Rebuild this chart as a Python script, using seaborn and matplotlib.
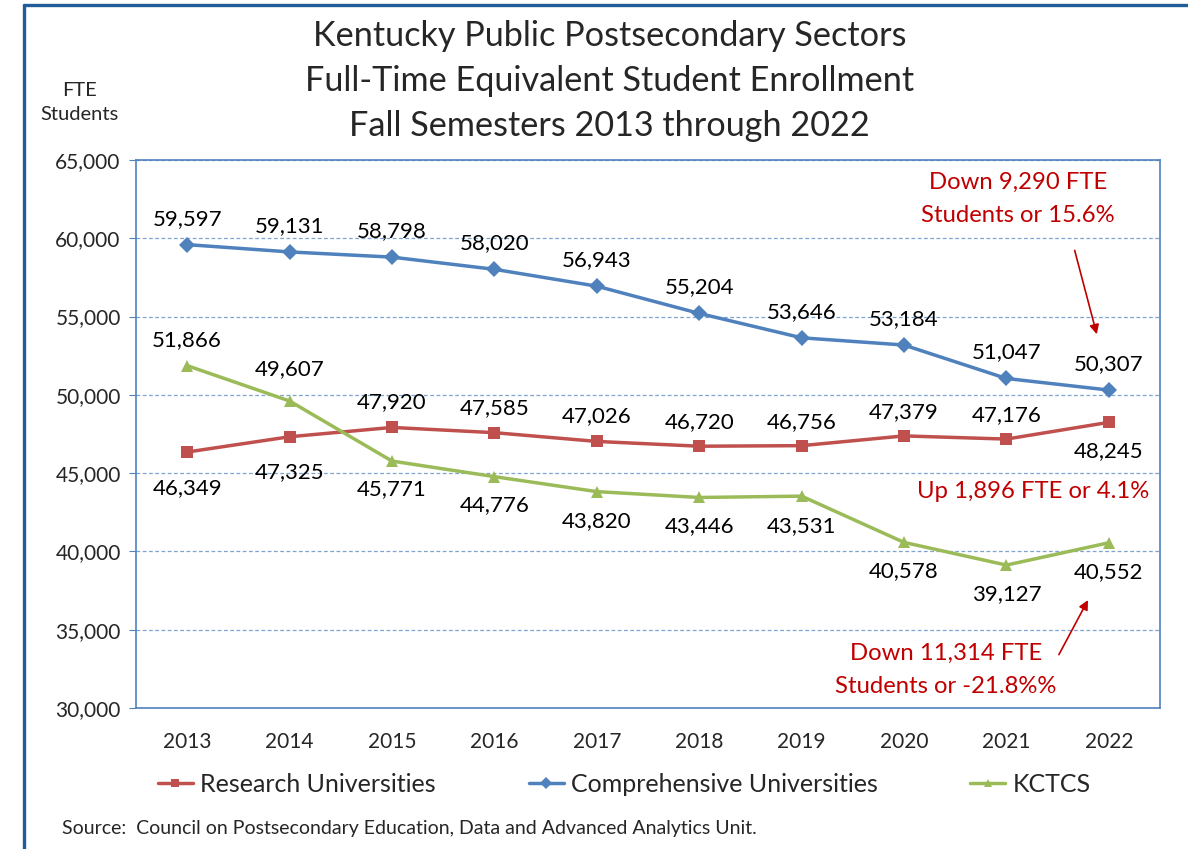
import seaborn as sns
import matplotlib.pyplot as plt
import pandas as pd
from matplotlib.lines import Line2D

# Fall semesters and FTE enrollment by sector
years = ["2013", "2014", "2015", "2016", "2017", "2018", "2019", "2020", "2021", "2022"]
research = [46349, 47325, 47920, 47585, 47026, 46720, 46756, 47379, 47176, 48245]
comprehensive = [59597, 59131, 58798, 58020, 56943, 55204, 53646, 53184, 51047, 50307]
kctcs = [51866, 49607, 45771, 44776, 43820, 43446, 43531, 40578, 39127, 40552]

# vertical offset of each data label in pixels (negative = above the point)
research_off = [36, 35, -25, -25, -25, -24, -24, -24, -24, 29]
comprehensive_off = [-26] * 10
kctcs_off = [-26, -32, 28, 28, 29, 29, 30, 29, 29, 29]

sectors = ["Research Universities", "Comprehensive Universities", "KCTCS"]
colors = ["#C0504D", "#4F81BD", "#9BBB59"]
markers = ["s", "D", "^"]

df = pd.DataFrame({
    "Year": years * 3,
    "FTE": research + comprehensive + kctcs,
    "Sector": [s for s in sectors for _ in years],
})

sns.set_style("white")
plt.rcParams["font.family"] = ["Lato", "DejaVu Sans"]

fig = plt.figure(figsize=(11.88, 8.49), dpi=100)
ax = fig.add_axes([0.1145, 0.1661, 0.8619, 0.6454])

sns.lineplot(data=df, x="Year", y="FTE", hue="Sector", style="Sector",
             hue_order=sectors, style_order=sectors,
             palette=colors, markers=markers, dashes=False,
             markersize=8.5, markeredgewidth=0, linewidth=2.5, ax=ax)

# data labels
for vals, offs in [(research, research_off), (comprehensive, comprehensive_off), (kctcs, kctcs_off)]:
    for i, (v, o) in enumerate(zip(vals, offs)):
        ax.annotate(f"{v:,}", (i, v), xytext=(0, -o * 0.72), textcoords="offset points",
                    ha="center", va="center", fontsize=16, color="black")

ax.set_xlim(-0.5, 9.5)
ax.set_ylim(30000, 65000)
ax.set_yticks(range(30000, 65001, 5000))
ax.yaxis.set_major_formatter(plt.FuncFormatter(lambda v, p: f"{int(v):,}"))
ax.set_xlabel("")
ax.set_ylabel("")
ax.tick_params(axis="y", labelsize=15, length=5, color="#4F81BD", direction="out", pad=6, left=True)
ax.tick_params(axis="x", labelsize=15, length=0, pad=17)
ax.grid(axis="y", color="#7FA3D0", linestyle=(0, (3, 2)), linewidth=0.9)
ax.set_axisbelow(True)
for sp in ax.spines.values():
    sp.set_color("#4F81BD")
    sp.set_linewidth(1.2)

# annotations
red = "#C00000"
ax.text(8.11, 62500, "Down 9,290 FTE\nStudents or 15.6%", color=red, fontsize=17.2,
        ha="center", va="center", linespacing=1.7)
ax.annotate("", xy=(8.89, 53700), xytext=(8.66, 59400),
            arrowprops=dict(arrowstyle="-|>", color=red, lw=1.2, mutation_scale=14))
ax.text(9.40, 43800, "Up 1,896 FTE or 4.1%", color=red, fontsize=17.2, ha="right", va="center")
ax.text(7.41, 32430, "Down 11,314 FTE\nStudents or -21.8%%", color=red, fontsize=17.2,
        ha="center", va="center", linespacing=1.7)
ax.annotate("", xy=(8.81, 37050), xytext=(8.50, 33250),
            arrowprops=dict(arrowstyle="-|>", color=red, lw=1.2, mutation_scale=14))

# legend under the plot
handles, labels = ax.get_legend_handles_labels()
ax.legend(handles, labels, loc="upper center", bbox_to_anchor=(0.477, -0.0775), ncol=3,
          frameon=False, fontsize=18, handlelength=1.4, columnspacing=3.7, handletextpad=0.3,
          markerscale=0.75)

fig.text(0.513, 0.9046, "Kentucky Public Postsecondary Sectors\nFull-Time Equivalent Student Enrollment\nFall Semesters 2013 through 2022",
         ha="center", va="center", fontsize=24.7, linespacing=1.5)
fig.text(0.067, 0.879, "FTE\nStudents", ha="center", va="center", fontsize=14.5, linespacing=1.5)
fig.text(0.052, 0.024, "Source:  Council on Postsecondary Education, Data and Advanced Analytics Unit.",
         ha="left", va="center", fontsize=14)

# outer frame (left and top edges)
fig.add_artist(Line2D([0.0202, 0.0202], [0, 0.9941], color="#1F5C99", lw=2.4, transform=fig.transFigure))
fig.add_artist(Line2D([0.0202, 1], [0.9941, 0.9941], color="#1F5C99", lw=2.4, transform=fig.transFigure))

fig.savefig("out.png", dpi=100)
